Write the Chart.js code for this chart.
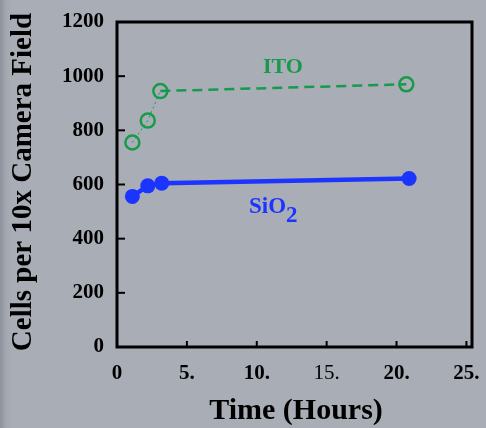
<!DOCTYPE html>
<html>
<head>
<meta charset="utf-8">
<script src="https://cdn.jsdelivr.net/npm/chart.js@4"></script>
<style>
  html, body { margin: 0; padding: 0; }
  body { width: 486px; height: 428px; background: linear-gradient(to right, #8c9098 0px, #a3a7af 6px, #a9adb5 12px); }
  #wrap { position: relative; width: 486px; height: 428px; }
</style>
</head>
<body>
<div id="wrap"><canvas id="myChart" width="486" height="428"></canvas></div>
<script>
const itoHours = [1.1, 2.2, 3.1, 20.7]
const itoCells = [755, 836, 945, 970]
const sioHours = [1.1, 2.2, 3.2, 20.9]
const sioCells = [556, 595, 605, 622]
const xTicks = [0, 5, 10, 15, 20, 25]
const yTicks = [0, 200, 400, 600, 800, 1000, 1200]

const green = '#179a4c'
const blue = '#1c34ff'
const serif = "'Liberation Serif', 'Times New Roman', serif"

function toPoints(xs, ys) {
  return xs.map(function(x, i) { return {x: x, y: ys[i]} })
}

// frame, inward ticks, titles and series labels
const decorations = {
  id: 'decorations',
  afterDraw(chart) {
    let ctx = chart.ctx
    let a = chart.chartArea
    let xs = chart.scales.x
    let ys = chart.scales.y
    ctx.save()
    ctx.strokeStyle = '#000'
    ctx.lineWidth = 2
    yTicks.forEach(function(v) {
      let py = ys.getPixelForValue(v)
      ctx.beginPath(); ctx.moveTo(a.left, py); ctx.lineTo(a.left + 8, py); ctx.stroke()
    })
    xTicks.forEach(function(v) {
      let px = xs.getPixelForValue(v)
      ctx.beginPath(); ctx.moveTo(px, a.bottom); ctx.lineTo(px, a.bottom - 6); ctx.stroke()
    })
    ctx.lineWidth = 3
    ctx.strokeRect(a.left, a.top, a.right - a.left, a.bottom - a.top)

    ctx.fillStyle = '#000'
    ctx.font = 'bold 30px ' + serif
    ctx.textAlign = 'center'
    ctx.textBaseline = 'middle'
    ctx.fillText('Time (Hours)', 296, 411)
    ctx.save()
    ctx.translate(24, 182)
    ctx.rotate(-Math.PI / 2)
    ctx.font = 'bold 29px ' + serif
    ctx.fillText('Cells per 10x Camera Field', 0, 0)
    ctx.restore()

    ctx.textBaseline = 'alphabetic'
    ctx.textAlign = 'left'
    ctx.fillStyle = green
    ctx.font = 'bold 22px ' + serif
    ctx.fillText('ITO', 263, 73)
    ctx.fillStyle = blue
    ctx.font = 'bold 23px ' + serif
    ctx.fillText('SiO', 249, 213)
    let w = ctx.measureText('SiO').width
    ctx.fillText('2', 249 + w, 222)
    ctx.restore()
  }
}

let ctx = document.querySelector('#myChart').getContext('2d')
let myChart = new Chart(ctx, {
  type: 'scatter',
  data: {
    datasets: [{
      label: 'ITO',
      data: toPoints(itoHours, itoCells),
      showLine: true,
      borderColor: green,
      borderWidth: 2.5,
      borderDash: [10, 6],
      segment: {
        borderDash: function(c) { return c.p1DataIndex < 3 ? [2, 3] : [10, 6] },
        borderWidth: function(c) { return c.p1DataIndex < 3 ? 1 : 2.5 }
      },
      pointRadius: 7,
      pointBorderWidth: 2.5,
      pointBorderColor: green,
      pointBackgroundColor: 'rgba(0,0,0,0)'
    }, {
      label: 'SiO2',
      data: toPoints(sioHours, sioCells),
      showLine: true,
      borderColor: blue,
      borderWidth: 4.5,
      pointRadius: 7.5,
      pointBorderWidth: 0,
      pointBackgroundColor: blue
    }]
  },
  options: {
    responsive: false,
    animation: false,
    layout: { padding: { left: 0, right: 14, top: 22, bottom: 0 } },
    plugins: { legend: { display: false }, tooltip: { enabled: false } },
    scales: {
      x: {
        type: 'linear',
        min: 0,
        max: 25.4,
        grid: { display: false, drawTicks: false },
        border: { display: false },
        afterFit: function(scale) {
          scale.height = 81
          scale.paddingLeft = 0
          scale.paddingRight = 0
        },
        ticks: {
          stepSize: 5,
          includeBounds: false,
          padding: 14,
          color: '#000',
          font: function(c) {
            return { family: serif, size: 21, weight: c.tick && c.tick.value === 15 ? 'normal' : 'bold' }
          },
          callback: function(v) { return v === 0 ? '0' : v + '.' }
        }
      },
      y: {
        min: 0,
        max: 1200,
        grid: { display: false, drawTicks: false },
        border: { display: false },
        afterFit: function(scale) {
          scale.width = 117
          scale.paddingTop = 0
          scale.paddingBottom = 0
        },
        ticks: {
          stepSize: 200,
          padding: 13,
          color: '#000',
          font: { family: serif, size: 21, weight: 'bold' },
          callback: function(v) { return String(v) }
        }
      }
    }
  },
  plugins: [decorations]
})
</script>
</body>
</html>
